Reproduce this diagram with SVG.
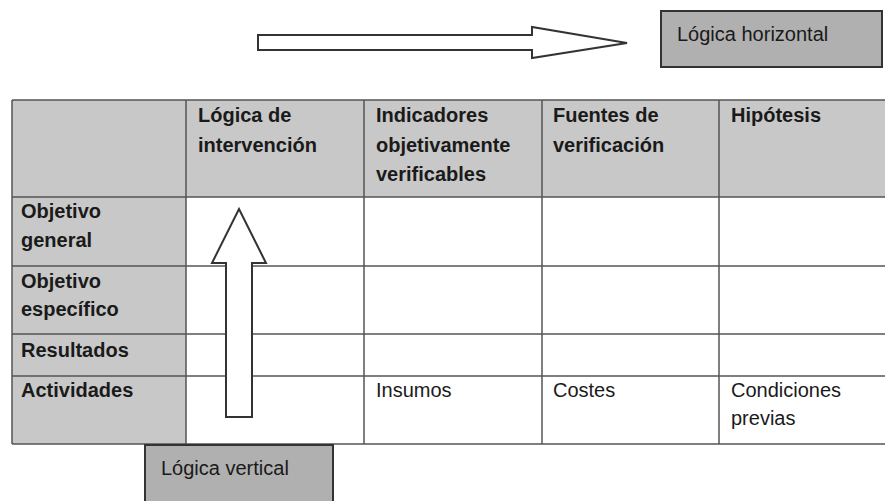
<svg xmlns="http://www.w3.org/2000/svg" width="885" height="501" viewBox="0 0 885 501">
<style>
  .t { font-family: "Liberation Sans", Arial, sans-serif; font-size: 20px; fill: #1a1a1a; }
  .b { font-weight: bold; }
  .grid { stroke: #555; stroke-width: 1.5; fill: none; }
  .arrow { fill: #fff; stroke: #333; stroke-width: 2; stroke-linejoin: miter; }
  .box { fill: #b0b0b0; stroke: #333; stroke-width: 2; }
  .hdr { fill: #c8c8c8; }
</style>
<rect width="885" height="501" fill="#fff"/>

<g id="table">
  <rect class="hdr" x="12" y="100" width="873" height="97"/>
  <rect class="hdr" x="12" y="197" width="174" height="247"/>
  <g class="grid">
    <line x1="12" y1="100" x2="885" y2="100"/>
    <line x1="12" y1="197" x2="885" y2="197"/>
    <line x1="12" y1="266" x2="885" y2="266"/>
    <line x1="12" y1="334" x2="885" y2="334"/>
    <line x1="12" y1="376" x2="885" y2="376"/>
    <line x1="12" y1="444" x2="885" y2="444"/>
    <line x1="12" y1="100" x2="12" y2="444"/>
    <line x1="186" y1="100" x2="186" y2="444"/>
    <line x1="364" y1="100" x2="364" y2="444"/>
    <line x1="542" y1="100" x2="542" y2="444"/>
    <line x1="719" y1="100" x2="719" y2="444"/>
  </g>
  <g class="t b">
    <text x="198" y="122">Lógica de</text>
    <text x="198" y="152">intervención</text>
    <text x="376" y="122">Indicadores</text>
    <text x="376" y="152">objetivamente</text>
    <text x="376" y="181">verificables</text>
    <text x="553" y="122">Fuentes de</text>
    <text x="553" y="152">verificación</text>
    <text x="731" y="122">Hipótesis</text>
    <text x="21" y="218">Objetivo</text>
    <text x="21" y="247">general</text>
    <text x="21" y="288">Objetivo</text>
    <text x="21" y="316">específico</text>
    <text x="21" y="357">Resultados</text>
    <text x="21" y="397">Actividades</text>
  </g>
  <g class="t">
    <text x="376" y="397">Insumos</text>
    <text x="553" y="397">Costes</text>
    <text x="731" y="397">Condiciones</text>
    <text x="731" y="425">previas</text>
  </g>
</g>

<g id="connectors">
  <polygon id="arrow-horizontal" class="arrow" points="258,35 532,35 532,27 627,43 532,58 532,50 258,50"/>
  <polygon id="arrow-vertical" class="arrow" points="226,417 226,263 212,263 239,209 266,263 252,263 252,417"/>
</g>

<g id="node-logica-horizontal">
  <rect class="box" x="661" y="11" width="221" height="56"/>
  <text class="t" x="677" y="41">Lógica horizontal</text>
</g>

<g id="node-logica-vertical">
  <rect class="box" x="145" y="445" width="188" height="70"/>
  <text class="t" x="161" y="475">Lógica vertical</text>
</g>
</svg>
